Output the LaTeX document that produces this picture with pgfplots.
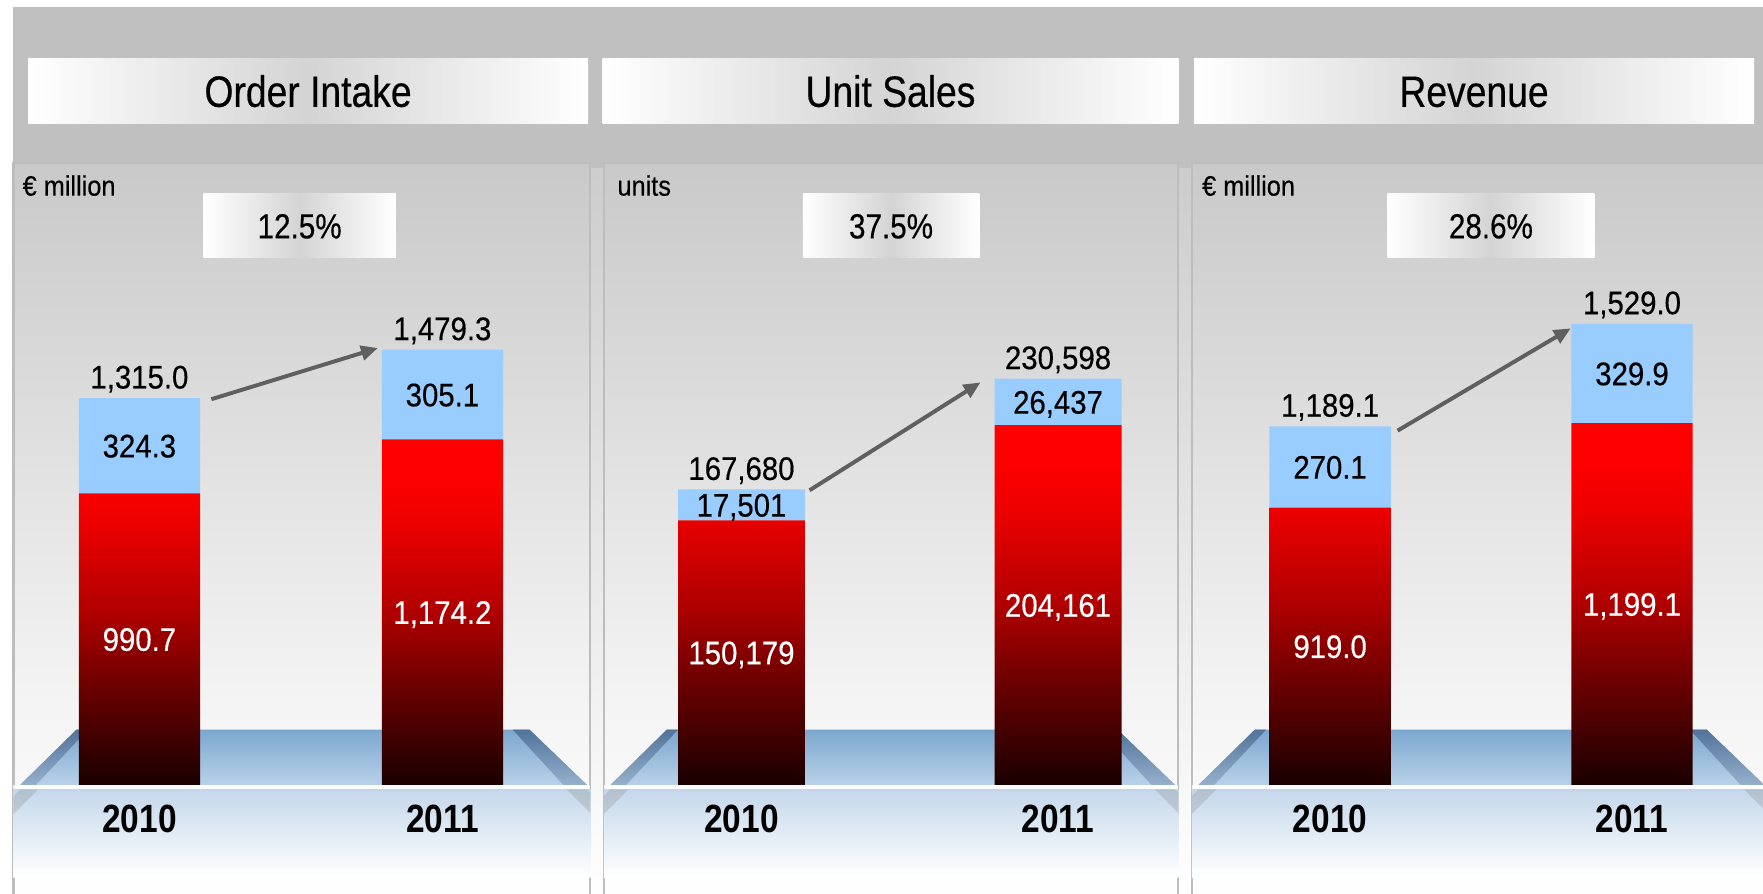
\documentclass[border=0pt]{standalone}
\usepackage{pgfplots}
\pgfplotsset{compat=1.18}
\usetikzlibrary{arrows.meta}
\usepackage{fontspec}
\setmainfont{Liberation Sans}[FakeStretch=0.85, UprightFeatures={FakeBold=0.4}]
\newfontfamily\labfont{Liberation Sans}[FakeStretch=0.9, FakeBold=0.4]

\definecolor{outergray}{HTML}{C0C0C0}
\definecolor{pantop}{HTML}{C9C9C9}
\definecolor{panmid}{HTML}{F2F2F2}
\definecolor{panborder}{HTML}{BDBDBD}
\definecolor{bannermid}{HTML}{D4D4D4}
\definecolor{barblue}{HTML}{99CCFF}
\definecolor{bardark}{HTML}{1A0000}
\definecolor{barmid}{HTML}{B00000}
\definecolor{arrowgray}{HTML}{5F5F5F}
\definecolor{ptop}{HTML}{7BA7CE}
\definecolor{pbot}{HTML}{B9D1E8}
\definecolor{pside}{HTML}{52739A}
\definecolor{pfront}{HTML}{C4D7EA}

% red bar gradient: bright red on top, near black at the bottom
\pgfdeclareverticalshading{redbar}{100bp}{%
  color(0bp)=(bardark); color(25bp)=(bardark); color(37.5bp)=(black!45!barmid);
  color(50bp)=(barmid); color(62.5bp)=(red!92!black); color(70bp)=(red);
  color(75bp)=(red); color(100bp)=(red)}

% 1pt = 1 px of the 1568 px wide reference
\newcommand\platform[2]{%
  \shade[top color=pfront, bottom color=white] (#1,702) rectangle (#2,780);
  \fill[gray, opacity=0.25] ({#1+6},702) -- ({#1+22},702) -- (#1,724) -- (#1,708) -- cycle;
  \fill[gray, opacity=0.25] ({#2-3},702) -- ({#2-21},702) -- (#2,723) -- (#2,705) -- cycle;
  \shade[top color=ptop, bottom color=pbot] ({#1+56},649) -- ({#2-54},649) -- ({#2-3},698) -- ({#1+6},698) -- cycle;
  \shade[top color=pside, bottom color=pside!35!pbot] ({#1+56},649) -- ({#1+66},649) -- ({#1+20},698) -- ({#1+6},698) -- cycle;
  \shade[top color=pside, bottom color=pside!35!pbot] ({#2-54},649) -- ({#2-69},649) -- ({#2-24},698) -- ({#2-3},698) -- cycle;
  \fill[white, opacity=0.8] (#1,698) rectangle (#2,702);
}
\newcommand\panel[2]{%
  \shade[top color=pantop, bottom color=panmid] (#1,145) rectangle (#2,600);
  \shade[top color=panmid, bottom color=white] (#1,600) rectangle (#2,800);
  \draw[panborder, line width=2pt] (#1,145) rectangle (#2,800);
}
\newcommand\banner[3]{%
  \shade[left color=white, right color=white, middle color=bannermid] (#1,52) rectangle (#2,110);
  \node[anchor=base, inner sep=0pt, font=\fontsize{39}{42}\selectfont] at ({(#1+#2)/2},95) {#3};
}
\newcommand\pctbox[3]{%
  \shade[left color=white, right color=white, middle color=bannermid] (#1,172) rectangle (#2,229);
  \node[anchor=base, inner sep=0pt, font=\fontsize{31}{34}\selectfont] at ({(#1+#2)/2},212) {#3};
}

\tikzset{
  lab/.style={anchor=base, inner sep=0pt, yshift=-10.4pt, font=\labfont\fontsize{29}{32}\selectfont},
  tot/.style={anchor=base, inner sep=0pt, yshift=8.5pt, font=\labfont\fontsize{29}{32}\selectfont},
  arr/.style={draw=arrowgray, line width=3.5pt, -{Triangle[length=15pt,width=13pt]}},
}
\pgfplotsset{
  panel/.style={anchor=south west, scale only axis, height=553pt, ymin=0,
    clip=false, ybar stacked, axis line style={draw=none},
    tick style={draw=none}, ytick=\empty, xtick={0,1}, xticklabels={2010,2011},
    xticklabel style={anchor=base, inner sep=0pt, yshift=-42pt,
      font=\fontsize{35}{40}\selectfont\bfseries}},
  redpart/.style={draw=none, shading=redbar},
  bluepart/.style={draw=none, fill=barblue},
}

\begin{document}
\begin{tikzpicture}
\useasboundingbox (0,0) rectangle (1568pt,-795pt);
\clip (0,0) rectangle (1568pt,-795pt);
\fill[white] (0,0) rectangle (1568pt,-795pt);
\begin{scope}[x=1pt, y=-1pt]
  \fill[outergray] (12,6) rectangle (1580,150);
  \shade[top color=outergray!80!white, bottom color=white] (12,150) rectangle (1580,800);
  \panel{12}{525}
  \panel{537}{1048}
  \panel{1060}{1580}
  \banner{25}{523}{Order Intake}
  \banner{536}{1048}{Unit Sales}
  \banner{1062}{1560}{Revenue}
  \pctbox{181}{352}{12.5\%}
  \pctbox{714}{871}{37.5\%}
  \pctbox{1234}{1418}{28.6\%}
  \node[anchor=base west, inner sep=0pt, font=\labfont\fontsize{25}{28}\selectfont] at (20,174) {€ million};
  \node[anchor=base west, inner sep=0pt, font=\labfont\fontsize{25}{28}\selectfont] at (549,174) {units};
  \node[anchor=base west, inner sep=0pt, font=\labfont\fontsize{25}{28}\selectfont] at (1069,174) {€ million};
  \platform{12}{525}
  \platform{537}{1048}
  \platform{1060}{1572}
\end{scope}

% Order Intake
\begin{axis}[panel, at={(12pt,-698pt)}, width=513pt,
  xmin=-0.4156, xmax=1.488, ymax=2114, bar width=0.4]
  \addplot[redpart] coordinates {(0,990.7) (1,1174.2)};
  \addplot[bluepart] coordinates {(0,324.3) (1,305.1)};
  \coordinate (a1) at (axis cs:0,495.35);
  \coordinate (a2) at (axis cs:1,587.1);
  \coordinate (a3) at (axis cs:0,1152.85);
  \coordinate (a4) at (axis cs:1,1326.75);
  \node[tot] at (axis cs:0,1315.0) {1,315.0};
  \node[tot] at (axis cs:1,1479.3) {1,479.3};
  \draw[arr] (axis cs:0.2375,1311) -- (axis cs:0.787,1485);
\end{axis}
\node[lab, white] at (a1) {990.7};
\node[lab, white] at (a2) {1,174.2};
\node[lab] at (a3) {324.3};
\node[lab] at (a4) {305.1};

% Unit Sales
\begin{axis}[panel, at={(537pt,-698pt)}, width=511pt,
  xmin=-0.435, xmax=1.380, ymax=353000, bar width=0.401]
  \addplot[redpart] coordinates {(0,150179) (1,204161)};
  \addplot[bluepart] coordinates {(0,17501) (1,26437)};
  \coordinate (b1) at (axis cs:0,75089.5);
  \coordinate (b2) at (axis cs:1,102080.5);
  \coordinate (b3) at (axis cs:0,158929.5);
  \coordinate (b4) at (axis cs:1,217379.5);
  \node[tot] at (axis cs:0,167680) {167,680};
  \node[tot] at (axis cs:1,230598) {230,598};
  \draw[arr] (axis cs:0.215,167200) -- (axis cs:0.755,228460);
\end{axis}
\node[lab, white] at (b1) {150,179};
\node[lab, white] at (b2) {204,161};
\node[lab] at (b3) {17,501};
\node[lab] at (b4) {26,437};

% Revenue
\begin{axis}[panel, at={(1060pt,-698pt)}, width=508pt,
  xmin=-0.458, xmax=1.434, ymax=2062, bar width=0.402]
  \addplot[redpart] coordinates {(0,919.0) (1,1199.1)};
  \addplot[bluepart] coordinates {(0,270.1) (1,329.9)};
  \coordinate (c1) at (axis cs:0,459.5);
  \coordinate (c2) at (axis cs:1,599.55);
  \coordinate (c3) at (axis cs:0,1054.05);
  \coordinate (c4) at (axis cs:1,1364.05);
  \node[tot] at (axis cs:0,1189.1) {1,189.1};
  \node[tot] at (axis cs:1,1529.0) {1,529.0};
  \draw[arr] (axis cs:0.2235,1174.5) -- (axis cs:0.797,1513.8);
\end{axis}
\node[lab, white] at (c1) {919.0};
\node[lab, white] at (c2) {1,199.1};
\node[lab] at (c3) {270.1};
\node[lab] at (c4) {329.9};
\end{tikzpicture}
\end{document}
